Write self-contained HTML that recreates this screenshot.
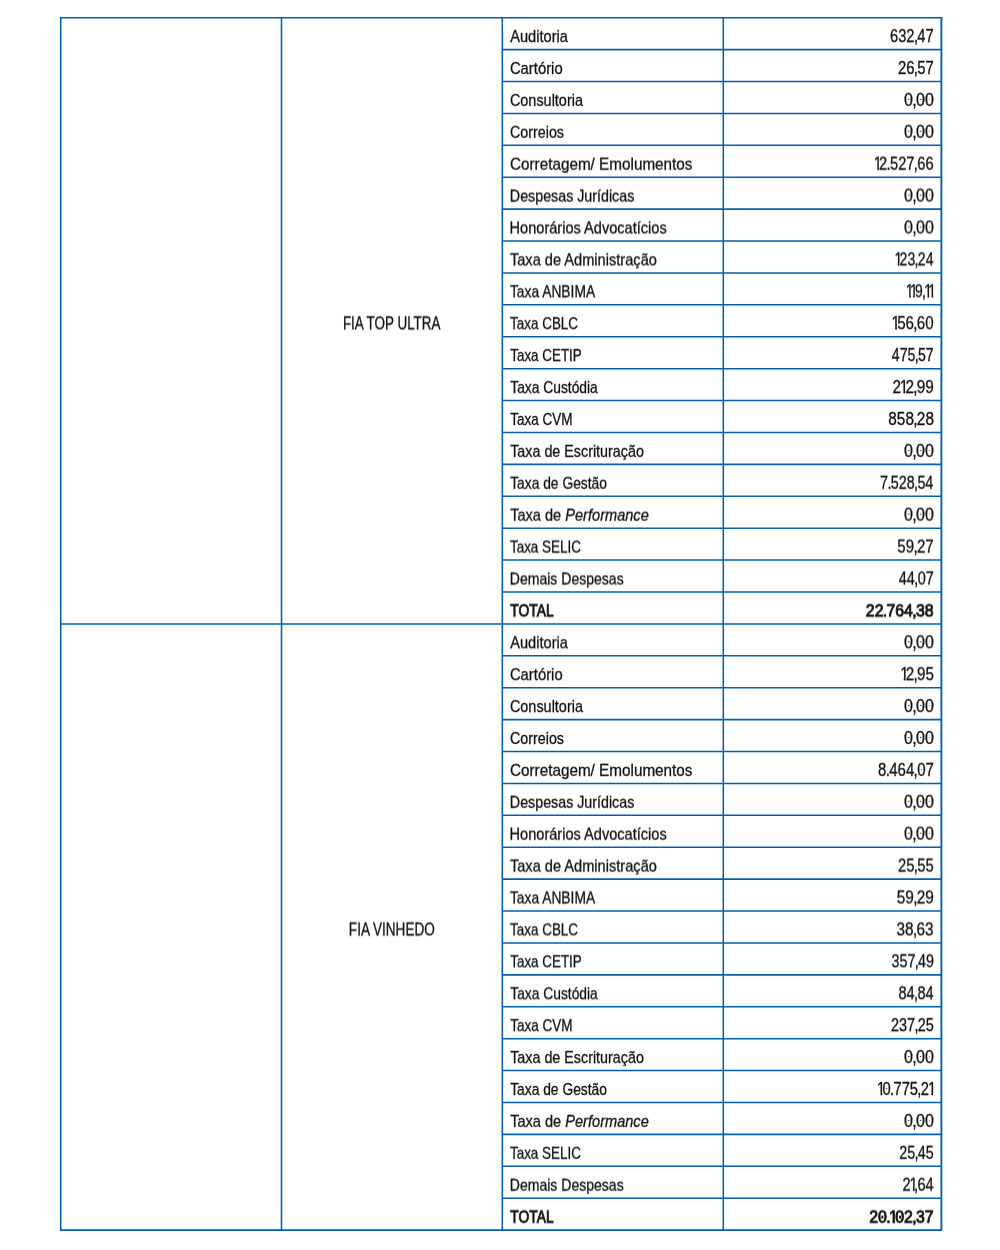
<!DOCTYPE html>
<html lang="pt-BR">
<head>
<meta charset="utf-8">
<title>Despesas dos Fundos</title>
<style>
html,body{margin:0;padding:0;background:#fff;}
body{width:1000px;height:1250px;position:relative;overflow:hidden;font-family:"Liberation Sans",sans-serif;}
#grid{position:absolute;left:0;top:0;}
#txt{position:absolute;left:0;top:0;width:1000px;height:1250px;will-change:transform;}
.t{position:absolute;white-space:nowrap;font-size:17.5px;line-height:20px;height:20px;color:#111;-webkit-text-stroke:0.3px #111;}
.l{font-size:17.0px;}
.b{font-size:17.0px;}
.l{transform-origin:0 0;}
.n{transform-origin:100% 0;}
.c{transform-origin:50% 0;}
.b{font-weight:normal;-webkit-text-stroke:0.85px #111;}
.s1{filter:url(#s1);}
.s2{filter:url(#s2);}
.s3{filter:url(#s3);}
.s4{filter:url(#s4);}
.s5{filter:url(#s5);}
.s6{filter:url(#s6);}
.s7{filter:url(#s7);}
.s8{filter:url(#s8);}
.s9{filter:url(#s9);}
.o{display:inline-block;margin:0 -0.19em 0 -0.075em;clip-path:polygon(0 0,100% 0,100% 13.69px,6.20px 13.69px,6.20px 100%,4.15px 100%,4.15px 13.69px,0 13.69px);}
.b .o{margin:0 -0.17em 0 -0.055em;clip-path:polygon(0 0,100% 0,100% 12.28px,6.38px 12.28px,6.38px 100%,3.67px 100%,3.67px 12.28px,0 12.28px);}
.p{margin:0 -0.045em;}
.z{position:relative;}
.z::after{content:"";position:absolute;left:50%;top:0.547em;width:1.4px;height:1.8px;margin:-0.9px 0 0 -0.7px;background:currentColor;border-radius:0.5px;opacity:.8;}
.b .z::after{width:2px;height:2.4px;margin:-1.2px 0 0 -1px;opacity:1;}
</style>
</head>
<body>
<svg width="0" height="0" style="position:absolute" aria-hidden="true"><defs><filter id="s1" x="-2%" y="-15%" width="104%" height="130%" color-interpolation-filters="sRGB"><feConvolveMatrix order="1 3" kernelMatrix="0 0.9 0.1" divisor="1" targetX="0" targetY="1" edgeMode="none" preserveAlpha="false"/></filter><filter id="s2" x="-2%" y="-15%" width="104%" height="130%" color-interpolation-filters="sRGB"><feConvolveMatrix order="1 3" kernelMatrix="0 0.8 0.2" divisor="1" targetX="0" targetY="1" edgeMode="none" preserveAlpha="false"/></filter><filter id="s3" x="-2%" y="-15%" width="104%" height="130%" color-interpolation-filters="sRGB"><feConvolveMatrix order="1 3" kernelMatrix="0 0.7 0.3" divisor="1" targetX="0" targetY="1" edgeMode="none" preserveAlpha="false"/></filter><filter id="s4" x="-2%" y="-15%" width="104%" height="130%" color-interpolation-filters="sRGB"><feConvolveMatrix order="1 3" kernelMatrix="0 0.6 0.4" divisor="1" targetX="0" targetY="1" edgeMode="none" preserveAlpha="false"/></filter><filter id="s5" x="-2%" y="-15%" width="104%" height="130%" color-interpolation-filters="sRGB"><feConvolveMatrix order="1 3" kernelMatrix="0 0.5 0.5" divisor="1" targetX="0" targetY="1" edgeMode="none" preserveAlpha="false"/></filter><filter id="s6" x="-2%" y="-15%" width="104%" height="130%" color-interpolation-filters="sRGB"><feConvolveMatrix order="1 3" kernelMatrix="0 0.4 0.6" divisor="1" targetX="0" targetY="1" edgeMode="none" preserveAlpha="false"/></filter><filter id="s7" x="-2%" y="-15%" width="104%" height="130%" color-interpolation-filters="sRGB"><feConvolveMatrix order="1 3" kernelMatrix="0 0.3 0.7" divisor="1" targetX="0" targetY="1" edgeMode="none" preserveAlpha="false"/></filter><filter id="s8" x="-2%" y="-15%" width="104%" height="130%" color-interpolation-filters="sRGB"><feConvolveMatrix order="1 3" kernelMatrix="0 0.2 0.8" divisor="1" targetX="0" targetY="1" edgeMode="none" preserveAlpha="false"/></filter><filter id="s9" x="-2%" y="-15%" width="104%" height="130%" color-interpolation-filters="sRGB"><feConvolveMatrix order="1 3" kernelMatrix="0 0.1 0.9" divisor="1" targetX="0" targetY="1" edgeMode="none" preserveAlpha="false"/></filter></defs></svg>
<svg id="grid" width="1000" height="1250" viewBox="0 0 1000 1250" fill="none" stroke="#035eac" stroke-width="1.55">
<line x1="281.5" y1="17.7" x2="281.5" y2="1230.09"/>
<line x1="502.3" y1="17.7" x2="502.3" y2="1230.09"/>
<line x1="723.3" y1="17.7" x2="723.3" y2="1230.09"/>
<line x1="502.3" y1="49.61" x2="941.4" y2="49.61"/>
<line x1="502.3" y1="81.51" x2="941.4" y2="81.51"/>
<line x1="502.3" y1="113.42" x2="941.4" y2="113.42"/>
<line x1="502.3" y1="145.32" x2="941.4" y2="145.32"/>
<line x1="502.3" y1="177.22" x2="941.4" y2="177.22"/>
<line x1="502.3" y1="209.13" x2="941.4" y2="209.13"/>
<line x1="502.3" y1="241.03" x2="941.4" y2="241.03"/>
<line x1="502.3" y1="272.94" x2="941.4" y2="272.94"/>
<line x1="502.3" y1="304.84" x2="941.4" y2="304.84"/>
<line x1="502.3" y1="336.75" x2="941.4" y2="336.75"/>
<line x1="502.3" y1="368.66" x2="941.4" y2="368.66"/>
<line x1="502.3" y1="400.56" x2="941.4" y2="400.56"/>
<line x1="502.3" y1="432.46" x2="941.4" y2="432.46"/>
<line x1="502.3" y1="464.37" x2="941.4" y2="464.37"/>
<line x1="502.3" y1="496.28" x2="941.4" y2="496.28"/>
<line x1="502.3" y1="528.18" x2="941.4" y2="528.18"/>
<line x1="502.3" y1="560.09" x2="941.4" y2="560.09"/>
<line x1="502.3" y1="591.99" x2="941.4" y2="591.99"/>
<line x1="60.7" y1="623.90" x2="941.4" y2="623.90"/>
<line x1="502.3" y1="655.80" x2="941.4" y2="655.80"/>
<line x1="502.3" y1="687.71" x2="941.4" y2="687.71"/>
<line x1="502.3" y1="719.61" x2="941.4" y2="719.61"/>
<line x1="502.3" y1="751.52" x2="941.4" y2="751.52"/>
<line x1="502.3" y1="783.42" x2="941.4" y2="783.42"/>
<line x1="502.3" y1="815.33" x2="941.4" y2="815.33"/>
<line x1="502.3" y1="847.23" x2="941.4" y2="847.23"/>
<line x1="502.3" y1="879.14" x2="941.4" y2="879.14"/>
<line x1="502.3" y1="911.04" x2="941.4" y2="911.04"/>
<line x1="502.3" y1="942.95" x2="941.4" y2="942.95"/>
<line x1="502.3" y1="974.85" x2="941.4" y2="974.85"/>
<line x1="502.3" y1="1006.76" x2="941.4" y2="1006.76"/>
<line x1="502.3" y1="1038.66" x2="941.4" y2="1038.66"/>
<line x1="502.3" y1="1070.57" x2="941.4" y2="1070.57"/>
<line x1="502.3" y1="1102.47" x2="941.4" y2="1102.47"/>
<line x1="502.3" y1="1134.38" x2="941.4" y2="1134.38"/>
<line x1="502.3" y1="1166.28" x2="941.4" y2="1166.28"/>
<line x1="502.3" y1="1198.19" x2="941.4" y2="1198.19"/>
<path d="M60.7 1231.02V17.7H942.32" stroke-linejoin="miter"/>
<path d="M941.4 16.93V1230.09H59.93" stroke-width="1.85" stroke-linejoin="round"/>
</svg>
<div id="txt">
<div class="t c s4" style="left:241px;width:300px;text-align:center;top:313px;transform:translateX(0.70px) scaleX(0.7677)">FIA TOP ULTRA</div>
<div class="t c s5" style="left:241px;width:300px;text-align:center;top:919px;transform:translateX(0.82px) scaleX(0.7751)">FIA VINHEDO</div>
<div class="t l s1" style="left:510px;top:27px;transform:translateX(0.25px) scaleX(0.8588)">Auditoria</div>
<div class="t n s1" style="right:67px;top:26px;transform:translateX(0.66px) scaleX(0.8389)">632<span class="p">,</span>47</div>
<div class="t l" style="left:509px;top:59px;transform:translateX(0.91px) scaleX(0.8721)">Cartório</div>
<div class="t n" style="right:67px;top:58px;transform:translateX(0.51px) scaleX(0.8483)">26<span class="p">,</span>57</div>
<div class="t l s9" style="left:509px;top:90px;transform:translateX(0.90px) scaleX(0.8492)">Consultoria</div>
<div class="t n s9" style="right:66px;top:89px;transform:translateX(0.40px) scaleX(0.9173)"><span class="z">0</span><span class="p">,</span><span class="z">0</span><span class="z">0</span></div>
<div class="t l s8" style="left:509px;top:122px;transform:translateX(0.93px) scaleX(0.8418)">Correios</div>
<div class="t n s8" style="right:66px;top:121px;transform:translateX(0.40px) scaleX(0.9173)"><span class="z">0</span><span class="p">,</span><span class="z">0</span><span class="z">0</span></div>
<div class="t l s7" style="left:509px;top:154px;transform:translateX(0.95px) scaleX(0.8986)">Corretagem/ Emolumentos</div>
<div class="t n s7" style="right:67px;top:153px;transform:translateX(0.45px) scaleX(0.8378)"><span class="o">1</span>2<span class="p">.</span>527<span class="p">,</span>66</div>
<div class="t l s6" style="left:509px;top:186px;transform:translateX(0.87px) scaleX(0.8386)">Despesas Jurídicas</div>
<div class="t n s6" style="right:66px;top:185px;transform:translateX(0.40px) scaleX(0.9173)"><span class="z">0</span><span class="p">,</span><span class="z">0</span><span class="z">0</span></div>
<div class="t l s5" style="left:509px;top:218px;transform:translateX(0.53px) scaleX(0.8576)">Honorários Advocatícios</div>
<div class="t n s5" style="right:66px;top:217px;transform:translateX(0.40px) scaleX(0.9173)"><span class="z">0</span><span class="p">,</span><span class="z">0</span><span class="z">0</span></div>
<div class="t l s4" style="left:509px;top:250px;transform:translateX(0.89px) scaleX(0.8595)">Taxa de Administração</div>
<div class="t n s4" style="right:67px;top:249px;transform:translateX(0.13px) scaleX(0.8030)"><span class="o">1</span>23<span class="p">,</span>24</div>
<div class="t l s3" style="left:509px;top:282px;transform:translateX(0.97px) scaleX(0.8116)">Taxa ANBIMA</div>
<div class="t n s3" style="right:68px;top:281px;transform:translateX(0.94px) scaleX(0.7929)"><span class="o">1</span><span class="o">1</span>9<span class="p">,</span><span class="o">1</span><span class="o">1</span></div>
<div class="t l s2" style="left:510px;top:314px;transform:translateX(0.08px) scaleX(0.7902)">Taxa CBLC</div>
<div class="t n s2" style="right:67px;top:313px;transform:translateX(0.35px) scaleX(0.8650)"><span class="o">1</span>56<span class="p">,</span>6<span class="z">0</span></div>
<div class="t l s1" style="left:510px;top:346px;transform:translateX(0.22px) scaleX(0.7887)">Taxa CETIP</div>
<div class="t n s1" style="right:67px;top:345px;transform:translateX(0.62px) scaleX(0.8042)">475<span class="p">,</span>57</div>
<div class="t l s1" style="left:510px;top:378px;transform:translateX(0.22px) scaleX(0.8130)">Taxa Custódia</div>
<div class="t n s1" style="right:67px;top:377px;transform:translateX(0.52px) scaleX(0.8753)">2<span class="o">1</span>2<span class="p">,</span>99</div>
<div class="t l" style="left:510px;top:410px;transform:translateX(0.20px) scaleX(0.7945)">Taxa CVM</div>
<div class="t n" style="right:67px;top:409px;transform:translateX(0.95px) scaleX(0.8776)">858<span class="p">,</span>28</div>
<div class="t l s9" style="left:510px;top:441px;transform:translateX(0.18px) scaleX(0.8421)">Taxa de Escrituração</div>
<div class="t n s9" style="right:66px;top:440px;transform:translateX(0.40px) scaleX(0.9173)"><span class="z">0</span><span class="p">,</span><span class="z">0</span><span class="z">0</span></div>
<div class="t l s8" style="left:510px;top:473px;transform:translateX(0.15px) scaleX(0.8128)">Taxa de Gestão</div>
<div class="t n s8" style="right:67px;top:472px;transform:translateX(0.32px) scaleX(0.8198)">7<span class="p">.</span>528<span class="p">,</span>54</div>
<div class="t l s7" style="left:510px;top:505px;transform:translateX(0.15px) scaleX(0.8578)">Taxa de <i>Performance</i></div>
<div class="t n s7" style="right:66px;top:504px;transform:translateX(0.40px) scaleX(0.9173)"><span class="z">0</span><span class="p">,</span><span class="z">0</span><span class="z">0</span></div>
<div class="t l s6" style="left:509px;top:537px;transform:translateX(0.95px) scaleX(0.7907)">Taxa SELIC</div>
<div class="t n s6" style="right:67px;top:536px;transform:translateX(0.43px) scaleX(0.8598)">59<span class="p">,</span>27</div>
<div class="t l s5" style="left:509px;top:569px;transform:translateX(0.81px) scaleX(0.8252)">Demais Despesas</div>
<div class="t n s5" style="right:67px;top:568px;transform:translateX(0.47px) scaleX(0.8265)">44<span class="p">,</span><span class="z">0</span>7</div>
<div class="t l b s4" style="left:510px;top:601px;transform:translateX(0.33px) scaleX(0.8123)">TOTAL</div>
<div class="t n b s4" style="right:67px;top:601px;transform:translateX(0.84px) scaleX(0.9314)">22<span class="p">.</span>764<span class="p">,</span>38</div>
<div class="t l s3" style="left:510px;top:633px;transform:translateX(0.25px) scaleX(0.8588)">Auditoria</div>
<div class="t n s3" style="right:66px;top:632px;transform:translateX(0.40px) scaleX(0.9173)"><span class="z">0</span><span class="p">,</span><span class="z">0</span><span class="z">0</span></div>
<div class="t l s2" style="left:509px;top:665px;transform:translateX(0.91px) scaleX(0.8721)">Cartório</div>
<div class="t n s2" style="right:66px;top:664px;transform:translateX(0.31px) scaleX(0.8680)"><span class="o">1</span>2<span class="p">,</span>95</div>
<div class="t l s1" style="left:509px;top:697px;transform:translateX(0.90px) scaleX(0.8492)">Consultoria</div>
<div class="t n s1" style="right:66px;top:696px;transform:translateX(0.40px) scaleX(0.9173)"><span class="z">0</span><span class="p">,</span><span class="z">0</span><span class="z">0</span></div>
<div class="t l" style="left:509px;top:729px;transform:translateX(0.93px) scaleX(0.8418)">Correios</div>
<div class="t n" style="right:66px;top:728px;transform:translateX(0.40px) scaleX(0.9173)"><span class="z">0</span><span class="p">,</span><span class="z">0</span><span class="z">0</span></div>
<div class="t l s9" style="left:509px;top:760px;transform:translateX(0.95px) scaleX(0.8986)">Corretagem/ Emolumentos</div>
<div class="t n s9" style="right:67px;top:759px;transform:translateX(0.80px) scaleX(0.8580)">8<span class="p">.</span>464<span class="p">,</span><span class="z">0</span>7</div>
<div class="t l s8" style="left:509px;top:792px;transform:translateX(0.87px) scaleX(0.8386)">Despesas Jurídicas</div>
<div class="t n s8" style="right:66px;top:791px;transform:translateX(0.40px) scaleX(0.9173)"><span class="z">0</span><span class="p">,</span><span class="z">0</span><span class="z">0</span></div>
<div class="t l s7" style="left:509px;top:824px;transform:translateX(0.53px) scaleX(0.8576)">Honorários Advocatícios</div>
<div class="t n s7" style="right:66px;top:823px;transform:translateX(0.40px) scaleX(0.9173)"><span class="z">0</span><span class="p">,</span><span class="z">0</span><span class="z">0</span></div>
<div class="t l s6" style="left:509px;top:856px;transform:translateX(0.89px) scaleX(0.8595)">Taxa de Administração</div>
<div class="t n s6" style="right:67px;top:855px;transform:translateX(0.54px) scaleX(0.8472)">25<span class="p">,</span>55</div>
<div class="t l s5" style="left:509px;top:888px;transform:translateX(0.97px) scaleX(0.8116)">Taxa ANBIMA</div>
<div class="t n s5" style="right:67px;top:887px;transform:translateX(0.62px) scaleX(0.8799)">59<span class="p">,</span>29</div>
<div class="t l s4" style="left:510px;top:920px;transform:translateX(0.08px) scaleX(0.7902)">Taxa CBLC</div>
<div class="t n s4" style="right:67px;top:919px;transform:translateX(0.39px) scaleX(0.8786)">38<span class="p">,</span>63</div>
<div class="t l s3" style="left:510px;top:952px;transform:translateX(0.22px) scaleX(0.7887)">Taxa CETIP</div>
<div class="t n s3" style="right:67px;top:951px;transform:translateX(0.95px) scaleX(0.8162)">357<span class="p">,</span>49</div>
<div class="t l s3" style="left:510px;top:984px;transform:translateX(0.22px) scaleX(0.8130)">Taxa Custódia</div>
<div class="t n s3" style="right:67px;top:983px;transform:translateX(0.34px) scaleX(0.8311)">84<span class="p">,</span>84</div>
<div class="t l s2" style="left:510px;top:1016px;transform:translateX(0.20px) scaleX(0.7945)">Taxa CVM</div>
<div class="t n s2" style="right:67px;top:1015px;transform:translateX(0.93px) scaleX(0.8260)">237<span class="p">,</span>25</div>
<div class="t l s1" style="left:510px;top:1048px;transform:translateX(0.18px) scaleX(0.8421)">Taxa de Escrituração</div>
<div class="t n s1" style="right:66px;top:1047px;transform:translateX(0.40px) scaleX(0.9173)"><span class="z">0</span><span class="p">,</span><span class="z">0</span><span class="z">0</span></div>
<div class="t l" style="left:510px;top:1080px;transform:translateX(0.15px) scaleX(0.8128)">Taxa de Gestão</div>
<div class="t n" style="right:67px;top:1079px;transform:translateX(0.78px) scaleX(0.8413)"><span class="o">1</span><span class="z">0</span><span class="p">.</span>775<span class="p">,</span>2<span class="o">1</span></div>
<div class="t l s9" style="left:510px;top:1111px;transform:translateX(0.15px) scaleX(0.8578)">Taxa de <i>Performance</i></div>
<div class="t n s9" style="right:66px;top:1110px;transform:translateX(0.40px) scaleX(0.9173)"><span class="z">0</span><span class="p">,</span><span class="z">0</span><span class="z">0</span></div>
<div class="t l s8" style="left:509px;top:1143px;transform:translateX(0.95px) scaleX(0.7907)">Taxa SELIC</div>
<div class="t n s8" style="right:67px;top:1142px;transform:translateX(0.50px) scaleX(0.8184)">25<span class="p">,</span>45</div>
<div class="t l s7" style="left:509px;top:1175px;transform:translateX(0.81px) scaleX(0.8252)">Demais Despesas</div>
<div class="t n s7" style="right:66px;top:1174px;transform:translateX(0.10px) scaleX(0.8328)">2<span class="o">1</span><span class="p">,</span>64</div>
<div class="t l b s6" style="left:510px;top:1207px;transform:translateX(0.33px) scaleX(0.8123)">TOTAL</div>
<div class="t n b s6" style="right:67px;top:1207px;transform:translateX(0.76px) scaleX(0.9354)">2<span class="z">0</span><span class="p">.</span><span class="o">1</span><span class="z">0</span>2<span class="p">,</span>37</div>
</div>
</body>
</html>
